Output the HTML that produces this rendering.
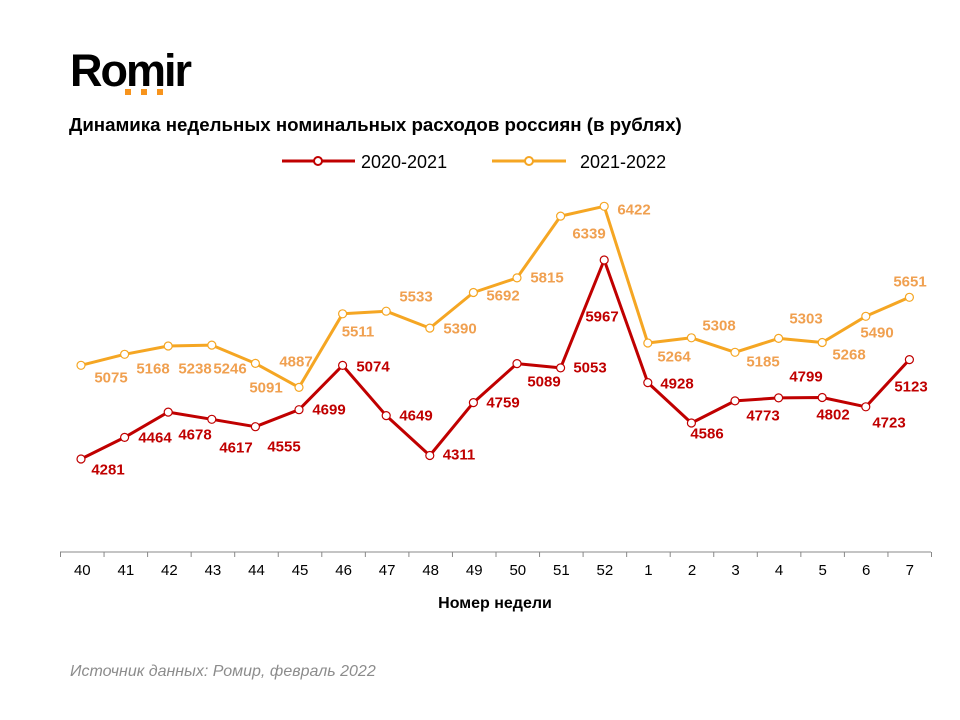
<!DOCTYPE html>
<html><head><meta charset="utf-8"><style>
body{margin:0;background:#fff;width:960px;height:720px;overflow:hidden}
svg{display:block;font-family:"Liberation Sans",Arial,sans-serif}
.r{fill:#c00000;font-weight:bold;font-size:15px}
.o{fill:#f0a050;font-weight:bold;font-size:15px}
.t{fill:#000;font-size:15px}
</style></head><body>
<svg width="960" height="720" viewBox="0 0 960 720">
<text x="70" y="86" font-size="45" font-weight="bold" fill="#000" letter-spacing="-2">Romir</text>
<rect x="125" y="89" width="6" height="6" fill="#f7941d"/><rect x="141" y="89" width="6" height="6" fill="#f7941d"/><rect x="157" y="89" width="6" height="6" fill="#f7941d"/>
<text x="69" y="131" font-size="18.7" font-weight="bold" fill="#000">Динамика недельных номинальных расходов россиян (в рублях)</text>
<line x1="282" y1="161" x2="355" y2="161" stroke="#c00000" stroke-width="3"/><circle cx="318" cy="161" r="4" fill="#fff" stroke="#c00000" stroke-width="2"/>
<text x="361" y="168" font-size="18" fill="#000">2020-2021</text>
<line x1="492" y1="161" x2="566" y2="161" stroke="#f5a623" stroke-width="3"/><circle cx="529" cy="161" r="4" fill="#fff" stroke="#f5a623" stroke-width="2"/>
<text x="580" y="168" font-size="18" fill="#000">2021-2022</text>
<line x1="60" y1="552" x2="931" y2="552" stroke="#888" stroke-width="1"/>
<g stroke="#888" stroke-width="1" id="ticks"></g>
<g id="xl"></g>
<polyline fill="none" stroke="#f5a623" stroke-width="3" stroke-linejoin="round" points="81,365.3 124.6,354.3 168.2,346 211.8,345.1 255.4,363.4 299,387.4 342.6,313.8 386.2,311.2 429.8,328.1 473.4,292.5 517,277.9 560.6,216.1 604.2,206.3 647.8,343 691.4,337.8 735,352.3 778.6,338.4 822.2,342.5 865.8,316.3 909.4,297.3"/>
<polyline fill="none" stroke="#c00000" stroke-width="3" stroke-linejoin="round" points="81,459 124.6,437.4 168.2,412.1 211.8,419.3 255.4,426.7 299,409.7 342.6,365.4 386.2,415.6 429.8,455.5 473.4,402.6 517,363.6 560.6,367.9 604.2,260 647.8,382.6 691.4,423 735,400.9 778.6,397.9 822.2,397.5 865.8,406.8 909.4,359.6"/>
<g id="pts"></g>
<g text-anchor="middle" dominant-baseline="central">
<text class="o" x="111" y="378">5075</text><text class="o" x="153" y="369">5168</text><text class="o" x="195" y="369">5238</text><text class="o" x="230" y="369">5246</text><text class="o" x="266" y="388">5091</text><text class="o" x="296" y="362">4887</text><text class="o" x="358" y="332">5511</text><text class="o" x="416" y="297">5533</text><text class="o" x="460" y="329">5390</text><text class="o" x="503" y="296">5692</text><text class="o" x="547" y="278">5815</text><text class="o" x="589" y="234">6339</text><text class="o" x="634" y="210">6422</text><text class="o" x="674" y="357">5264</text><text class="o" x="719" y="326">5308</text><text class="o" x="763" y="362">5185</text><text class="o" x="806" y="319">5303</text><text class="o" x="849" y="355">5268</text><text class="o" x="877" y="333">5490</text><text class="o" x="910" y="282">5651</text>
<text class="r" x="108" y="470">4281</text><text class="r" x="155" y="438">4464</text><text class="r" x="195" y="435">4678</text><text class="r" x="236" y="448">4617</text><text class="r" x="284" y="447">4555</text><text class="r" x="329" y="410">4699</text><text class="r" x="373" y="367">5074</text><text class="r" x="416" y="416">4649</text><text class="r" x="459" y="455">4311</text><text class="r" x="503" y="403">4759</text><text class="r" x="544" y="382">5089</text><text class="r" x="590" y="368">5053</text><text class="r" x="602" y="317">5967</text><text class="r" x="677" y="384">4928</text><text class="r" x="707" y="434">4586</text><text class="r" x="763" y="416">4773</text><text class="r" x="806" y="377">4799</text><text class="r" x="833" y="415">4802</text><text class="r" x="889" y="423">4723</text><text class="r" x="911" y="387">5123</text>
</g>
<text x="495" y="608" text-anchor="middle" font-size="16" font-weight="bold" fill="#000">Номер недели</text>
<text x="70" y="676" font-size="16" font-style="italic" fill="#8c8c8c">Источник данных: Ромир, февраль 2022</text>
<script>
var ns="http://www.w3.org/2000/svg",labs=["40","41","42","43","44","45","46","47","48","49","50","51","52","1","2","3","4","5","6","7"];
var tk=document.getElementById("ticks"),xl=document.getElementById("xl");
for(var i=0;i<=20;i++){var x=60.5+43.55*i;var l=document.createElementNS(ns,"line");l.setAttribute("x1",x);l.setAttribute("x2",x);l.setAttribute("y1",552);l.setAttribute("y2",557);tk.appendChild(l);}
for(var i=0;i<20;i++){var t=document.createElementNS(ns,"text");t.setAttribute("x",82.3+43.55*i);t.setAttribute("y",575);t.setAttribute("text-anchor","middle");t.setAttribute("class","t");t.textContent=labs[i];xl.appendChild(t);}
var pts=document.getElementById("pts");
document.querySelectorAll("polyline").forEach(function(p){var c=p.getAttribute("stroke");p.getAttribute("points").split(" ").forEach(function(s){var a=s.split(",");var e=document.createElementNS(ns,"circle");e.setAttribute("cx",a[0]);e.setAttribute("cy",a[1]);e.setAttribute("r",4);e.setAttribute("fill","#fff");e.setAttribute("stroke",c);e.setAttribute("stroke-width",1.2);pts.appendChild(e);});});
</script>
</svg>
</body></html>
